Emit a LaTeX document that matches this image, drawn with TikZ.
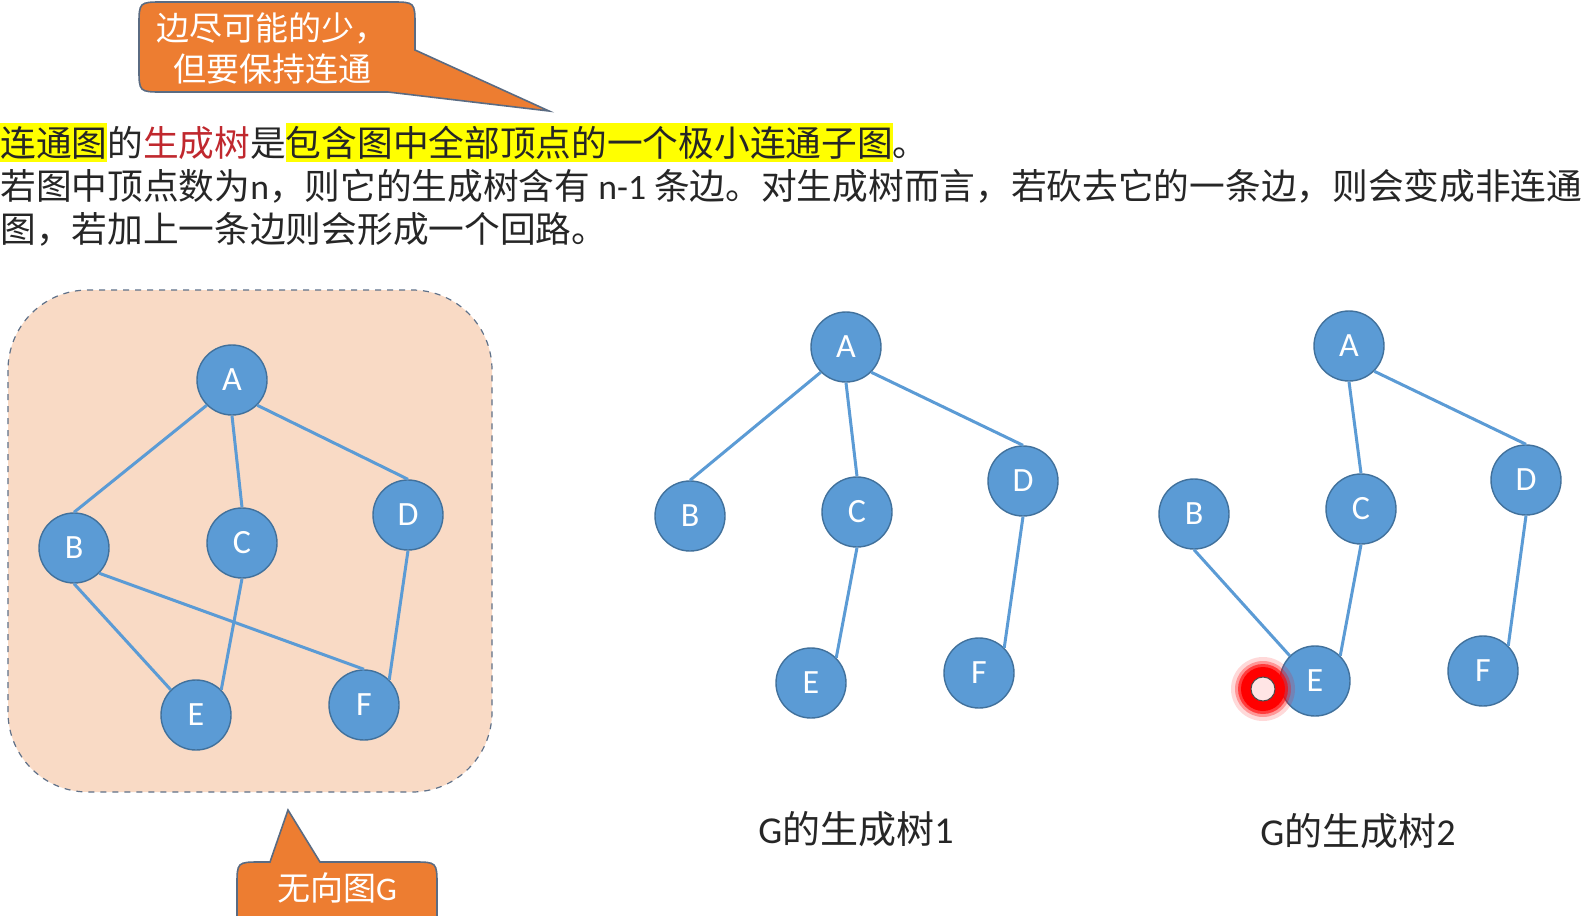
\documentclass[tikz,border=0pt]{standalone}
\usepackage{fontspec}
\setmainfont{Noto Sans CJK SC}
\newfontfamily\lat{Carlito}
\definecolor{nodeblue}{HTML}{5B9BD5}
\definecolor{nodeedge}{HTML}{41719C}
\definecolor{peach}{HTML}{F9DAC5}
\definecolor{dashc}{HTML}{5F7189}
\definecolor{orangeA}{HTML}{ED7D31}
\definecolor{calloutedge}{HTML}{5A6B82}
\definecolor{hl}{HTML}{FFFF00}
\definecolor{darkred}{HTML}{C0282E}
\definecolor{txt}{HTML}{262626}
\newcommand\hlbox[1]{{\setlength\fboxsep{0pt}\colorbox{hl}{\rule[-3pt]{0pt}{19.5pt}#1}}}
\begin{document}
\begin{tikzpicture}[x=0.5pt,y=-0.5pt,
  vtx/.style={circle, fill=nodeblue, draw=nodeedge, line width=0.7pt, minimum size=35pt, inner sep=0pt, text=white, font=\lat\fontsize{17}{17}\selectfont},
  edge/.style={draw=nodeblue, line width=1.5pt},
  callout/.style={fill=orangeA, draw=calloutedge, line width=0.8pt},
  bodytext/.style={anchor=base west, inner sep=0pt, font=\fontsize{17.85}{17.85}\selectfont, text=txt},
  calltext/.style={align=center, text=white, inner sep=0pt, font=\fontsize{16.5}{20.5}\selectfont},
  caption/.style={text=txt, inner sep=0pt, font=\fontsize{19}{19}\selectfont}]
\useasboundingbox (0,0) rectangle (1586,916);
\clip (0,0) rectangle (1586,916);
\fill[white] (0,0) rectangle (1586,916);

% top callout
\path[callout] (139,50) -- (139,26) .. controls (139,2) .. (163,2) -- (391,2) .. controls (415,2) .. (415,26) -- (415,50) -- (549,111) -- (388,92) -- (163,92) .. controls (139,92) .. (139,68) -- cycle;
\node[calltext] (c1) at (272,48) {边尽可能的少，\\但要保持连通};

% text lines
\node[bodytext] (l1) at (0,156) {\hlbox{连通图}的\textcolor{darkred}{生成树}是\hlbox{包含图中全部顶点的一个极小连通子图}。};
\node[bodytext] (l2) at (0,199.5) {若图中顶点数为{\lat n}，则它的生成树含有 {\lat n-1} 条边。对生成树而言，若砍去它的一条边，则会变成非连通};
\node[bodytext] (l3) at (0,242) {图，若加上一条边则会形成一个回路。};

% left graph
\path[fill=peach, draw=dashc, dashed, line width=0.6pt, rounded corners=40pt] (8,290) rectangle (492,792);
\node[vtx] (gA) at (232,380) {A};
\node[vtx] (gB) at (74,548) {B};
\node[vtx] (gC) at (242,543) {C};
\node[vtx] (gD) at (408,515) {D};
\node[vtx] (gE) at (196,715) {E};
\node[vtx] (gF) at (364,705) {F};
\draw[edge] (gA.south west) -- (gB.north);
\draw[edge] (gA.south) -- (gC.north);
\draw[edge] (gA.south east) -- (gD.north);
\draw[edge] (gB.south) -- (gE.north west);
\draw[edge] (gB.south east) -- (gF.north);
\draw[edge] (gC.south) -- (gE.north east);
\draw[edge] (gD.south) -- (gF.north east);

% bottom callout
\path[callout] (237,960) -- (237,886) .. controls (237,862) .. (261,862) -- (270,862) -- (288,810) -- (320,862) -- (413,862) .. controls (437,862) .. (437,886) -- (437,960) -- cycle;
\node[calltext] (c2) at (337,888) {无向图{\lat G}};

% tree 1
\node[vtx] (aA) at (846,347) {A};
\node[vtx] (aB) at (690,516) {B};
\node[vtx] (aC) at (857,512) {C};
\node[vtx] (aD) at (1023,481) {D};
\node[vtx] (aE) at (811,683) {E};
\node[vtx] (aF) at (979,673) {F};
\draw[edge] (aA.south west) -- (aB.north);
\draw[edge] (aA.south) -- (aC.north);
\draw[edge] (aA.south east) -- (aD.north);
\draw[edge] (aC.south) -- (aE.north east);
\draw[edge] (aD.south) -- (aF.north east);
\node[caption] (t1) at (856,829) {{\lat G}的生成树{\lat 1}};

% tree 2
\node[vtx] (bA) at (1349,346) {A};
\node[vtx] (bB) at (1194,514) {B};
\node[vtx] (bC) at (1361,509) {C};
\node[vtx] (bD) at (1526,480) {D};
\node[vtx] (bE) at (1315,681) {E};
\node[vtx] (bF) at (1483,671) {F};
\draw[edge] (bA.south) -- (bC.north);
\draw[edge] (bA.south east) -- (bD.north);
\draw[edge] (bB.south) -- (bE.north west);
\draw[edge] (bC.south) -- (bE.north east);
\draw[edge] (bD.south) -- (bF.north east);
\node[caption] (t2) at (1358,831) {{\lat G}的生成树{\lat 2}};

% pointer dot
\coordinate (dot) at (1263,689);
\fill[red, opacity=0.15] (dot) circle (16pt);
\fill[red, opacity=0.3] (dot) circle (14pt);
\fill[red, opacity=0.6] (dot) circle (12.5pt);
\fill[red] (dot) circle (11pt);
\filldraw[fill=red!10, draw=black!70, line width=0.5pt] (dot) circle (6pt);
\end{tikzpicture}
\end{document}
